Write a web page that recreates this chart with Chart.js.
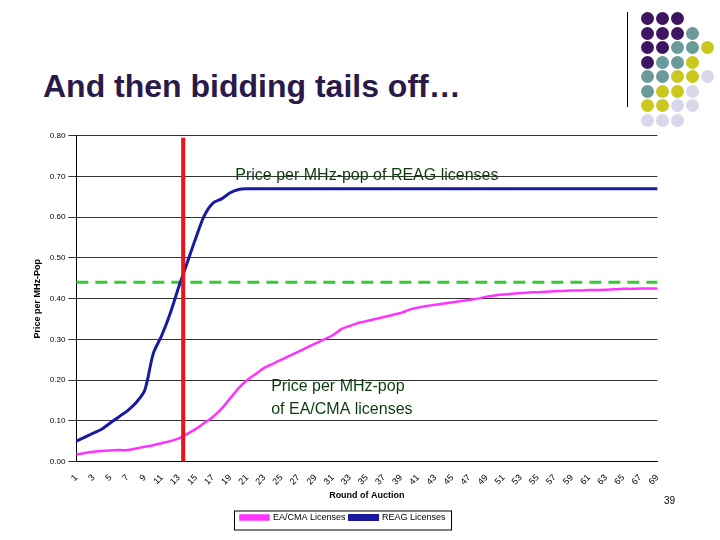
<!DOCTYPE html><html><head><script src="https://cdn.jsdelivr.net/npm/chart.js"></script>
<style>body{margin:0;width:720px;height:540px;background:#fff;position:relative;font-family:"Liberation Sans",Arial,sans-serif;overflow:hidden}
#t{position:absolute;left:43px;top:68px;font-size:32px;font-weight:bold;color:#2a1a4a}
#w{position:absolute;left:28px;top:128px;width:640px;height:404px}
.d{position:absolute;width:13px;height:13px;border-radius:50%}
#pg{position:absolute;left:664px;top:495px;font-size:10px}
</style></head><body>
<div id="t">And then bidding tails off…</div>
<div style="position:absolute;left:627px;top:12px;width:1px;height:95px;background:#000"></div>
<div id="dots"></div>
<div id="w"><canvas id="c"></canvas></div>
<div id="pg">39</div>
<script>
const rows=[[0,0,0],[0,0,0,1],[0,0,1,1,2],[0,1,1,2],[1,1,2,2,3],[1,2,2,3],[2,2,3,3],[3,3,3]];
const cols=['#3d1560','#6b9a9a','#c8c81e','#d8d8ea'];
let h='';rows.forEach((r,i)=>r.forEach((c,j)=>{h+=`<div class="d" style="left:${641+j*15}px;top:${12+i*14.5}px;background:${cols[c]}"></div>`}));
document.getElementById('dots').innerHTML=h;
const rounds=Array.from({length:69},(_,i)=>String(i+1));
const reag=[0.05,0.06,0.07,0.08,0.095,0.11,0.125,0.145,0.175,0.265,0.31,0.365,0.43,0.49,0.55,0.605,0.635,0.645,0.66,0.668,0.67,0.67,0.67,0.67,0.67,0.67,0.67,0.67,0.67,0.67,0.67,0.67,0.67,0.67,0.67,0.67,0.67,0.67,0.67,0.67,0.67,0.67,0.67,0.67,0.67,0.67,0.67,0.67,0.67,0.67,0.67,0.67,0.67,0.67,0.67,0.67,0.67,0.67,0.67,0.67,0.67,0.67,0.67,0.67,0.67,0.67,0.67,0.67,0.67];
const eacma=[0.017,0.021,0.024,0.026,0.027,0.028,0.028,0.032,0.036,0.04,0.045,0.05,0.057,0.068,0.08,0.095,0.11,0.13,0.155,0.18,0.2,0.215,0.23,0.24,0.25,0.26,0.27,0.28,0.29,0.3,0.31,0.325,0.333,0.34,0.345,0.35,0.355,0.36,0.365,0.373,0.378,0.382,0.385,0.388,0.391,0.394,0.397,0.4,0.405,0.408,0.41,0.412,0.414,0.415,0.416,0.417,0.418,0.419,0.42,0.42,0.421,0.421,0.422,0.423,0.424,0.424,0.425,0.425,0.425];
const threshold=rounds.map(()=>0.44);
const redAt=13.5;
const extras={id:'ex',afterDatasetsDraw(ch){const{ctx,scales:{x,y},chartArea:a}=ch;
 const px=x.getPixelForValue(redAt-1);ctx.save();ctx.strokeStyle='#e8141a';ctx.lineWidth=4;ctx.beginPath();ctx.moveTo(px,y.getPixelForValue(0.795));ctx.lineTo(px,a.bottom);ctx.stroke();
 ctx.fillStyle='#0b3d0b';ctx.font='16px "Liberation Sans",Arial';ctx.fillText('Price per MHz-pop of REAG licenses',x.getPixelForValue(18.6),y.getPixelForValue(0.703));
 ctx.fillText('Price per MHz-pop',x.getPixelForValue(22.8),y.getPixelForValue(0.183));ctx.fillText('of EA/CMA licenses',x.getPixelForValue(22.8),y.getPixelForValue(0.128));
 ctx.restore();}};
const boxLeg={id:'bl',afterDraw(ch){const l=ch.legend;const ctx=ch.ctx;ctx.save();ctx.strokeStyle='#000';ctx.lineWidth=1;
 const w=l.legendItems.length?l.lineWidths[0]:0;const cx=(l.left+l.right)/2;ctx.strokeRect(cx-w/2-4,l.top+2,w+8,l.height-4);ctx.restore();}};
new Chart(document.getElementById('c'),{type:'line',data:{labels:rounds,datasets:[
 {label:'EA/CMA Licenses',data:eacma,borderColor:'#ff33ff',backgroundColor:'#ff33ff',borderWidth:2.5,pointRadius:0,tension:0.3},
 {label:'REAG Licenses',data:reag,borderColor:'#1a1aa0',backgroundColor:'#1a1aa0',borderWidth:3,pointRadius:0,tension:0.3},
 {label:'th',data:threshold,borderColor:'#33cc33',borderWidth:3,borderDash:[12,7],pointRadius:0}]},
 options:{animation:false,responsive:true,maintainAspectRatio:false,layout:{padding:{right:10,top:4}},
 plugins:{legend:{position:'bottom',labels:{boxWidth:28,boxHeight:4,font:{size:9},color:'#000',padding:4,filter:i=>i.text!=='th'}},tooltip:{enabled:false}},
 scales:{x:{offset:false,grid:{display:false},border:{color:'#000'},title:{display:true,text:'Round of Auction',font:{size:9,weight:'bold'},color:'#000',padding:{top:0,bottom:8}},
  ticks:{autoSkip:false,maxRotation:45,minRotation:45,font:{size:9},color:'#000',callback:(v,i)=>i%2===0?rounds[i]:''}},
 y:{min:0,max:0.8,grid:{color:'#333'},border:{color:'#000'},title:{display:true,text:'Price per MHz-Pop',font:{size:9,weight:'bold'},color:'#000'},
  ticks:{stepSize:0.1,font:{size:8},color:'#000',callback:v=>v.toFixed(2)}}}},plugins:[extras,boxLeg]});
</script></body></html>
